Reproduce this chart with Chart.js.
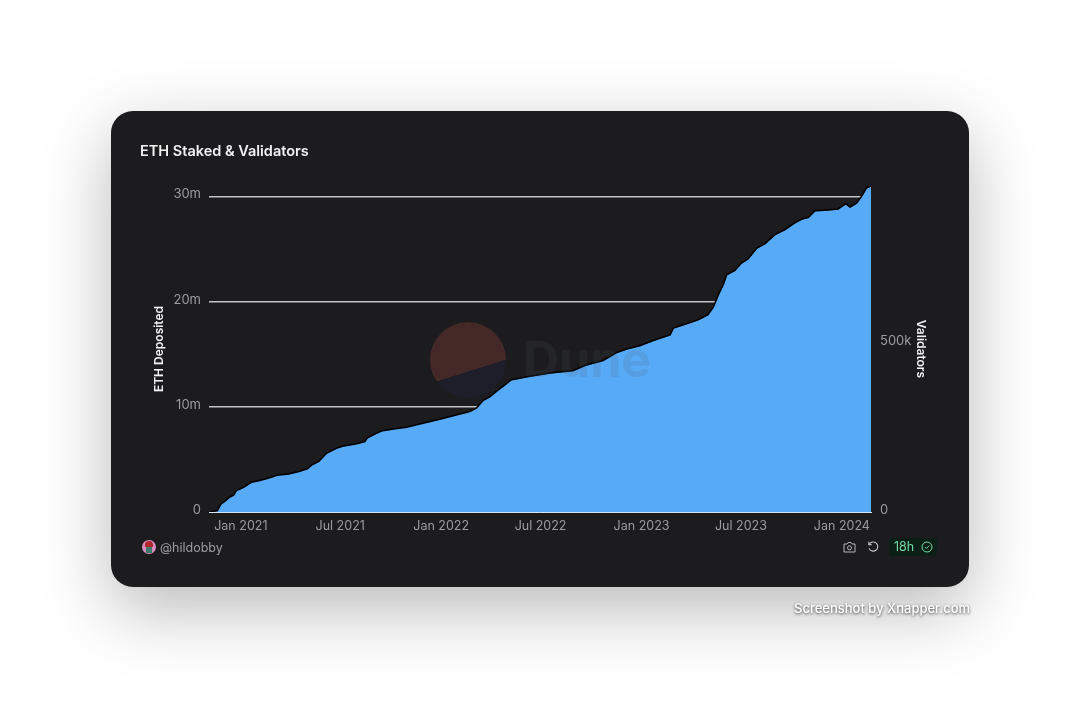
<!DOCTYPE html>
<html>
<head>
<meta charset="utf-8">
<title>ETH Staked & Validators</title>
<script src="https://cdn.jsdelivr.net/npm/chart.js@4"></script>
<style>
  html, body { margin: 0; padding: 0; background: #fff; font-family: Inter, sans-serif; }
  #page { position: relative; width: 1080px; height: 726px; overflow: hidden; }
  #card { position: absolute; left: 111px; top: 111px; width: 858px; height: 476px; background: #1c1c1e;
    border-radius: 22px; box-shadow: 0 22px 70px rgba(0,0,0,.28); }
  #chart { position: absolute; left: 0; top: 0; }
  .abs { position: absolute; white-space: nowrap; }
  #title { left: 140px; top: 142px; font-size: 14.5px; font-weight: 600; color: #f2f2f3; line-height: 18px; }
  #logo { left: 430px; top: 322px; width: 76px; height: 76px; border-radius: 50%; opacity: .95;
    background: linear-gradient(162.6deg, #462a28 61.6%, #1e1e2c 61.6%); }
  #wordmark { left: 523px; top: 328px; font-size: 50px; line-height: 62px; font-weight: 700; color: rgba(90,95,110,.15); }
  #avatar { left: 142px; top: 540px; width: 14px; height: 14px; border-radius: 50%; background: #d98cc0; overflow: hidden; }
  #avatar i { position: absolute; left: 3px; top: 1px; width: 8px; height: 6px; background: #b3262b; border-radius: 4px 4px 0 0; }
  #avatar b { position: absolute; left: 4px; top: 7px; width: 6px; height: 6px; background: #3d7a6b; }
  #author { left: 160px; top: 540px; font-size: 12.5px; line-height: 15px; color: #9c9c9f; }
  #badge { left: 889px; top: 538px; width: 48px; height: 18px; background: #0b1f17; border-radius: 4px; }
  #badge span { position: absolute; left: 5px; top: 1px; font-size: 12.5px; line-height: 16px; color: #74dba4; }
  #badge svg { position: absolute; left: 32px; top: 3px; }
  #xnapper { left: 794px; top: 600px; font-size: 13px; line-height: 16px; font-weight: 500; color: #fff;
    text-shadow: 0 1px 3px rgba(0,0,0,.75); }
</style>
</head>
<body>
<div id="page">
  <div id="card"></div>
  <canvas id="chart" width="1080" height="726"></canvas>
  <div class="abs" id="title">ETH Staked &amp; Validators</div>
  <div class="abs" id="logo"></div>
  <div class="abs" id="wordmark">Dune</div>
  <div class="abs" id="avatar"><i></i><b></b></div>
  <div class="abs" id="author">@hildobby</div>
  <svg class="abs" style="left:843px;top:541px" width="13" height="12" viewBox="0 0 13 12" fill="none" stroke="#b5b5b8" stroke-width="1">
    <path d="M1 3h3l1-1.5h3L9 3h3v8H1z"/><circle cx="6.5" cy="6.8" r="2"/>
  </svg>
  <svg class="abs" style="left:867px;top:541px" width="13" height="12" viewBox="0 0 13 12" fill="none" stroke="#c5c5c8" stroke-width="1.1">
    <path d="M2.2 3.2A4.6 4.6 0 1 1 2 7.5"/><path d="M1.8 .8v2.8h2.8"/>
  </svg>
  <div class="abs" id="badge">
    <span>18h</span>
    <svg width="12" height="12" viewBox="0 0 12 12" fill="none" stroke="#74dba4" stroke-width="1">
      <circle cx="6" cy="6" r="5"/><path d="M3.8 6l1.6 1.6 2.8-3"/>
    </svg>
  </div>
  <div class="abs" id="xnapper">Screenshot by Xnapper.com</div>
</div>
<script>
// days counted from 1 Jan 2021
const dayOffsets = [-58, -43, -36, -28, -21, -13, -8, 5, 19, 33, 51, 66, 87, 106, 121, 129, 142, 148, 156, 174,
  188, 211, 226, 230, 244, 256, 278, 302, 326, 357, 387, 417, 429, 441, 454, 469, 481, 493, 527, 563,
  605, 630, 660, 685, 703, 727, 751, 782, 788, 812, 833, 851, 861, 870, 879, 885, 900, 912, 924, 940,
  955, 973, 991, 1009, 1022, 1034, 1046, 1058, 1088, 1102, 1110, 1122, 1131, 1140, 1148];
// millions of ETH
const ethDeposited = [0, 0.12, 0.76, 1.07, 1.40, 1.59, 2.06, 2.35, 2.82, 2.97, 3.23, 3.49, 3.61, 3.83, 4.08, 4.46, 4.81, 5.13, 5.57, 6.05,
  6.27, 6.46, 6.68, 7.00, 7.38, 7.69, 7.88, 8.04, 8.36, 8.74, 9.12, 9.53, 9.85, 10.57, 10.95, 11.59, 12.06, 12.54, 12.85, 13.17,
  13.42, 13.96, 14.37, 15.13, 15.45, 15.79, 16.24, 16.81, 17.45, 17.85, 18.23, 18.71, 19.47, 20.61, 21.56, 22.51, 22.92, 23.62, 24.00, 25.04,
  25.45, 26.31, 26.78, 27.42, 27.78, 27.95, 28.59, 28.61, 28.75, 29.25, 28.94, 29.32, 29.94, 30.74, 30.96];
// thousands of validators
const validators = [0, 4, 24, 33, 44, 50, 64, 73, 88, 93, 101, 109, 113, 120, 128, 139, 150, 160, 174, 189,
  196, 202, 209, 219, 231, 240, 246, 251, 261, 273, 285, 298, 308, 330, 342, 362, 377, 392, 402, 412,
  419, 436, 449, 473, 483, 493, 508, 525, 545, 558, 570, 585, 608, 644, 674, 703, 716, 738, 750, 782,
  795, 822, 837, 857, 868, 873, 893, 894, 898, 914, 904, 916, 936, 961, 966];

const xTickDays = [0, 181, 365, 546, 730, 911, 1095];
const xTickLabels = ['Jan 2021', 'Jul 2021', 'Jan 2022', 'Jul 2022', 'Jan 2023', 'Jul 2023', 'Jan 2024'];
const ethTicks = [0, 10, 20, 30];
const ethTickLabels = ['0', '10m', '20m', '30m'];
const validatorTicks = [0, 500];
const validatorTickLabels = ['0', '500k'];

const tickColor = '#9c9c9f';
Chart.defaults.font.family = 'Inter, sans-serif';

const points = (ys) => dayOffsets.map((d, i) => ({ x: d, y: ys[i] }));
const fixTicks = (values) => (scale) => { scale.ticks = values.map(v => ({ value: v })); };
const labelFrom = (values, labels) => (v) => labels[values.indexOf(v)];

new Chart(document.getElementById('chart'), {
  type: 'line',
  data: {
    datasets: [
      { label: 'Validators', data: points(validators), yAxisID: 'y1', order: 0,
        borderColor: '#000', borderWidth: 1.6, pointRadius: 0, fill: false, tension: 0 },
      { label: 'ETH Deposited', data: points(ethDeposited), yAxisID: 'y', order: 1,
        borderWidth: 0, backgroundColor: '#56aaf6', pointRadius: 0, fill: 'origin', tension: 0 },
    ],
  },
  options: {
    responsive: false, animation: false,
    layout: { padding: { left: 152, right: 152, top: 186, bottom: 186 } },
    plugins: { legend: { display: false }, title: { display: false }, tooltip: { enabled: false } },
    scales: {
      x: {
        type: 'linear', min: -58, max: 1148, z: 1,
        afterBuildTicks: fixTicks(xTickDays),
        afterFit: (s) => { s.height = 28; },
        grid: { display: false, drawTicks: false },
        border: { display: true, color: '#d6e8f8', width: 1 },
        ticks: { color: tickColor, font: { size: 12.5 }, padding: 7, maxRotation: 0, autoSkip: false,
          callback: labelFrom(xTickDays, xTickLabels) },
      },
      y: {
        position: 'left', min: 0, max: 31,
        afterBuildTicks: fixTicks(ethTicks),
        afterFit: (s) => { s.width = 57; },
        grid: { color: '#c4c4c6', lineWidth: 1.4, drawTicks: false },
        border: { display: false },
        ticks: { color: tickColor, font: { size: 13 }, padding: 8, labelOffset: -2, autoSkip: false,
          callback: labelFrom(ethTicks, ethTickLabels) },
        title: { display: true, text: 'ETH Deposited', color: '#f2f2f3', padding: 0,
          font: { size: 12, weight: '600' } },
      },
      y1: {
        position: 'right', min: 0, max: 966,
        afterBuildTicks: fixTicks(validatorTicks),
        afterFit: (s) => { s.width = 57; },
        grid: { display: false, drawTicks: false },
        border: { display: false },
        ticks: { color: tickColor, font: { size: 13 }, padding: 9, labelOffset: -2, autoSkip: false,
          callback: labelFrom(validatorTicks, validatorTickLabels) },
        title: { display: true, text: 'Validators', color: '#f2f2f3', padding: 0,
          font: { size: 12, weight: '600' } },
      },
    },
  },
});
</script>
</body>
</html>
